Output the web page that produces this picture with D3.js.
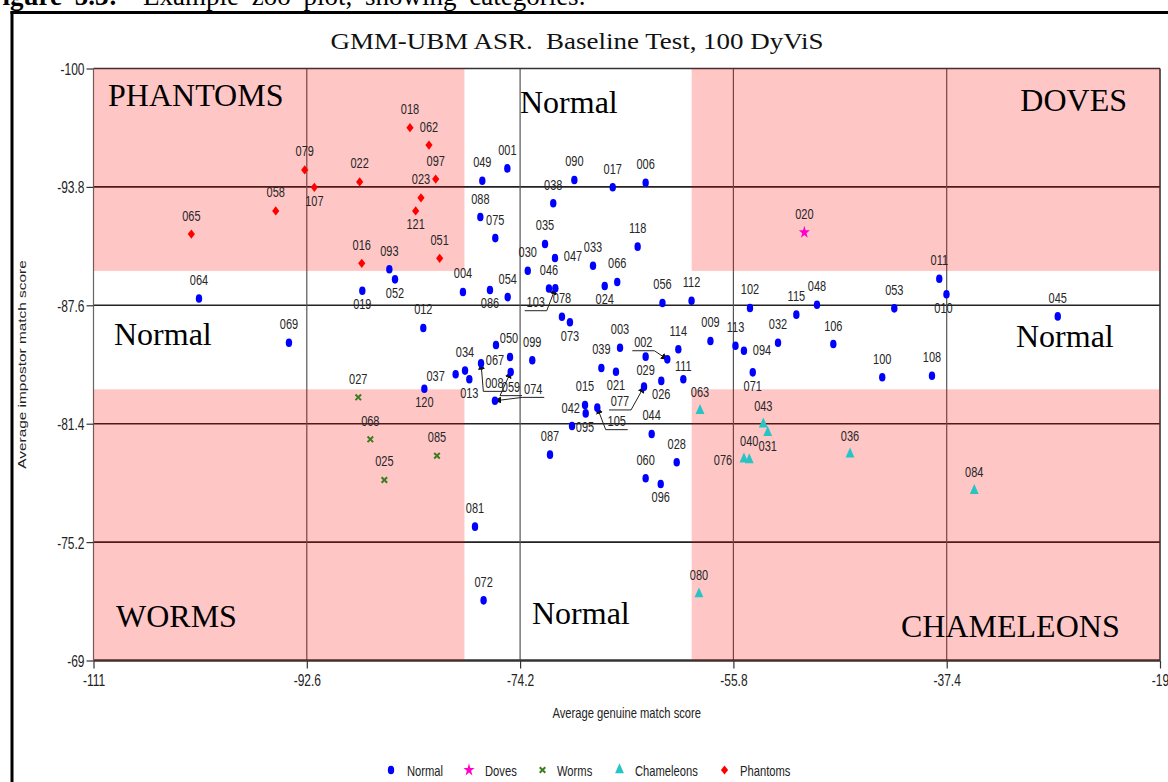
<!DOCTYPE html>
<html>
<head>
<meta charset="utf-8">
<script src="https://cdn.jsdelivr.net/npm/d3@7"></script>
<style>
  html, body { margin: 0; padding: 0; background: #fff; }
  svg { display: block; }
</style>
</head>
<body>
<svg id="chart" width="1168" height="782"></svg>
<script>
// ---- axes ----
const xTicks = [-111, -92.6, -74.2, -55.8, -37.4, -19];
const yTicks = [-100, -93.8, -87.6, -81.4, -75.2, -69];

// ---- category thresholds (genuine / impostor) ----
const genuineBounds = [-79.0, -59.4];
const impostorBounds = [-89.4, -83.2];

// ---- speakers: Normal ----
const normalIds = ["001","002","003","004","006","008","009","010","011","012","013","015","017","019","021",
  "024","026","028","029","030","032","033","034","035","037","038","039","042","044","045",
  "046","047","048","049","050","052","053","054","056","059","060","064","066","067","069",
  "071","072","073","074","075","077","078","081","086","087","088","090","093","094","095",
  "096","099","100","102","103","105","106","108","111","112","113","114","115","118","120"];
const normalGenuine = [-75.30,-61.50,-65.58,-79.13,-63.37,-77.57,-57.78,-37.42,-38.04,-82.55,-78.58,-68.60,-66.21,-87.81,-65.93,
  -66.90,-62.02,-60.69,-63.37,-73.54,-51.95,-67.91,-78.95,-72.05,-79.76,-71.34,-67.19,-68.54,-62.85,-27.82,
  -71.71,-71.19,-48.59,-77.46,-76.28,-84.99,-41.92,-75.27,-61.92,-75.01,-63.37,-101.90,-65.82,-75.07,-94.14,
  -54.13,-77.35,-69.90,-76.37,-76.34,-63.51,-70.59,-78.09,-76.80,-71.62,-77.63,-69.52,-85.48,-54.89,-69.72,
  -62.07,-73.15,-42.96,-54.37,-71.16,-67.54,-47.18,-38.67,-60.12,-59.41,-55.62,-60.55,-50.37,-64.06,-82.46];
const normalImpostor = [-94.77,-84.77,-85.38,-88.30,-94.02,-84.56,-85.73,-88.18,-88.99,-86.41,-83.73,-82.38,-93.78,-88.36,-84.12,
  -88.61,-83.64,-79.38,-84.91,-89.41,-85.64,-89.67,-84.18,-90.81,-83.99,-92.94,-84.32,-81.94,-80.86,-87.02,
  -88.48,-90.08,-87.63,-94.12,-85.52,-88.96,-87.44,-88.03,-87.72,-84.11,-78.54,-87.96,-88.82,-84.89,-85.64,
  -84.09,-72.15,-86.71,-82.60,-91.12,-83.34,-87.00,-76.01,-88.40,-79.78,-92.22,-94.16,-89.49,-85.22,-81.28,
  -78.24,-84.72,-83.83,-87.46,-88.49,-82.24,-85.57,-83.91,-83.73,-87.84,-85.48,-85.30,-87.11,-90.67,-83.23];

// ---- speakers: Doves ----
const doveIds = ["020"];
const doveGenuine = [-49.68];
const doveImpostor = [-91.42];

// ---- speakers: Worms ----
const wormIds = ["027","068","025","085"];
const wormGenuine = [-88.16,-87.12,-85.91,-81.37];
const wormImpostor = [-82.78,-80.58,-78.45,-79.72];

// ---- speakers: Chameleons ----
const chameleonIds = ["063","043","031","076","040","036","084","080"];
const chameleonGenuine = [-58.68,-53.22,-52.84,-54.89,-54.43,-45.74,-35.02,-58.77];
const chameleonImpostor = [-82.08,-81.38,-80.93,-79.54,-79.50,-79.81,-77.89,-72.48];

// ---- speakers: Phantoms ----
const phantomIds = ["065","058","079","107","022","018","062","097","023","121","016","051"];
const phantomGenuine = [-102.56,-95.28,-92.78,-91.95,-88.04,-83.70,-82.06,-81.48,-82.75,-83.21,-87.86,-81.14];
const phantomImpostor = [-91.33,-92.54,-94.69,-93.78,-94.06,-96.90,-95.99,-94.21,-93.23,-92.54,-89.80,-90.06];

// ---- label placement (text centre offset from the point, px) ----
const labelBelow = ["024","086","073","021","029","026","096","019","052","013","120","071","121","107","031"];
const labelNudge = {"047":[18,-2],"094":[18,-1],"050":[13,-7],"067":[-15,2],"037":[-20,1.5],"042":[-15,-6],
  "095":[13,1],"111":[0,-14],"076":[-21,0],"010":[-3,13]};
// labels moved off their point, joined back by an underline and an arrow
const leaderLabels = {"103":[-19.6,13.4,"right"],"002":[-24,-17.6,"right"],"077":[-24,14.3,"right"],
  "105":[19.4,13,"left"],"008":[13.3,19,"left"],"059":[0.3,14.7,"left"],"074":[38.3,-12.4,"left"]};

const svg = d3.select("#chart");
const W = 1168, H = 782;
const plot = {left: 93.5, right: 1160, top: 68.5, bottom: 660.5};
const x = d3.scaleLinear().domain([xTicks[0], xTicks[xTicks.length-1]]).range([plot.left, plot.right]);
const y = d3.scaleLinear().domain([yTicks[0], yTicks[yTicks.length-1]]).range([plot.top, plot.bottom]);

const SANS = "'Liberation Sans', Arial, sans-serif";
const SERIF = "'Liberation Serif', 'Times New Roman', serif";
const STRETCH = 1.376; // chart text is drawn tall and narrow

// squeeze each text horizontally to k of its natural width
function squeeze(sel, k) {
  sel.each(function() {
    const w = this.getComputedTextLength();
    this.setAttribute("textLength", (w * k).toFixed(2));
    this.setAttribute("lengthAdjust", "spacingAndGlyphs");
  });
}

svg.append("rect").attr("width", W).attr("height", H).attr("fill", "#fff");

// caption above the frame (cut off by the page edge)
const caption = svg.append("text").attr("x", -14).attr("y", 5)
  .attr("font-family", SERIF).attr("font-size", 27).attr("fill", "#000")
  .attr("word-spacing", 6).style("white-space", "pre");
caption.append("tspan").attr("font-weight", "bold").text("Figure 5.3:");
caption.append("tspan").text("  Example zoo plot, showing categories.");

// outer frame
svg.append("line").attr("x1", 12).attr("x2", 12).attr("y1", 11).attr("y2", H).attr("stroke", "#000").attr("stroke-width", 3);
svg.append("line").attr("x1", 10.5).attr("x2", W).attr("y1", 12.5).attr("y2", 12.5).attr("stroke", "#000").attr("stroke-width", 3);

// title
const title = svg.append("text").attr("x", 577).attr("y", 49).attr("text-anchor", "middle")
  .attr("font-family", SERIF).attr("font-size", 24).attr("fill", "#111")
  .style("white-space", "pre").text("GMM-UBM ASR.  Baseline Test, 100 DyViS");
title.attr("textLength", 493).attr("lengthAdjust", "spacingAndGlyphs");

// grid lines
const grid = svg.append("g");
grid.selectAll("line.h").data(yTicks.slice(1, -1)).join("line")
  .attr("x1", plot.left).attr("x2", plot.right).attr("y1", d => y(d)).attr("y2", d => y(d))
  .attr("stroke", "#222").attr("stroke-width", 1.6);
grid.selectAll("line.v").data(xTicks.slice(1, -1)).join("line")
  .attr("y1", plot.top).attr("y2", plot.bottom).attr("x1", d => x(d)).attr("x2", d => x(d))
  .attr("stroke", "#555").attr("stroke-width", 1.2);

// plot border
svg.append("line").attr("x1", plot.left).attr("x2", plot.right).attr("y1", plot.top).attr("y2", plot.top).attr("stroke", "#333").attr("stroke-width", 1.6);
svg.append("line").attr("x1", plot.right).attr("x2", plot.right).attr("y1", plot.top).attr("y2", plot.bottom).attr("stroke", "#333").attr("stroke-width", 1.6);
svg.append("line").attr("x1", plot.left).attr("x2", plot.right).attr("y1", plot.bottom).attr("y2", plot.bottom).attr("stroke", "#333").attr("stroke-width", 2.4);
svg.append("line").attr("x1", plot.left).attr("x2", plot.left).attr("y1", plot.top).attr("y2", plot.bottom).attr("stroke", "#666").attr("stroke-width", 1.2);

// shaded zones (outside the normal bands)
const zoneX = [[xTicks[0], genuineBounds[0]], [genuineBounds[1], xTicks[xTicks.length-1]]];
const zoneY = [[yTicks[0], impostorBounds[0]], [impostorBounds[1], yTicks[yTicks.length-1]]];
const zones = [];
zoneX.forEach(zx => zoneY.forEach(zy => zones.push({zx, zy})));
svg.append("g").selectAll("rect").data(zones).join("rect")
  .attr("x", d => x(d.zx[0])).attr("width", d => x(d.zx[1]) - x(d.zx[0]))
  .attr("y", d => y(d.zy[0])).attr("height", d => y(d.zy[1]) - y(d.zy[0]))
  .attr("fill", "rgb(255,0,0)").attr("fill-opacity", 0.225);

// axes
const yAxis = svg.append("g").attr("transform", `translate(${plot.left},0)`)
  .call(d3.axisLeft(y).tickValues(yTicks).tickSize(7).tickSizeOuter(0).tickFormat(d => String(d)));
const xAxis = svg.append("g").attr("transform", `translate(0,${plot.bottom})`)
  .call(d3.axisBottom(x).tickValues(xTicks).tickSize(8).tickSizeOuter(0).tickFormat(d => String(d)));
[yAxis, xAxis].forEach(a => {
  a.select(".domain").remove();
  a.selectAll(".tick line").attr("stroke", "#333").attr("stroke-width", 1.2);
  a.selectAll(".tick text").attr("font-family", SANS).attr("font-size", 12 * STRETCH).attr("fill", "#222");
});
yAxis.selectAll(".tick text").attr("x", -9).attr("dy", "0.36em");
xAxis.selectAll(".tick text").attr("y", 14).attr("dy", "0.71em");
squeeze(yAxis.selectAll(".tick text"), 1 / STRETCH);
squeeze(xAxis.selectAll(".tick text"), 1 / STRETCH);

// axis titles
const xTitle = svg.append("text").attr("x", (plot.left + plot.right) / 2 + 0).attr("y", 718)
  .attr("text-anchor", "middle").attr("font-family", SANS).attr("font-size", 11.2 * STRETCH).attr("fill", "#222")
  .text("Average genuine match score");
squeeze(xTitle, 1 / STRETCH);
const yTitle = svg.append("text").attr("transform", `translate(26,${(plot.top + plot.bottom) / 2}) rotate(-90)`)
  .attr("text-anchor", "middle").attr("font-family", SANS).attr("font-size", 11.2).attr("fill", "#222")
  .text("Average impostor match score");
squeeze(yTitle, STRETCH);

// zone names
const zoneNames = [
  {t: "PHANTOMS", x: 108, y: 106, a: "start"},
  {t: "Normal", x: 520, y: 113, a: "start"},
  {t: "DOVES", x: 1127, y: 111, a: "end"},
  {t: "Normal", x: 114, y: 345, a: "start"},
  {t: "Normal", x: 1016, y: 347, a: "start"},
  {t: "WORMS", x: 116, y: 627, a: "start"},
  {t: "Normal", x: 532, y: 624, a: "start"},
  {t: "CHAMELEONS", x: 901, y: 637, a: "start"}
];
svg.append("g").selectAll("text").data(zoneNames).join("text")
  .attr("x", d => d.x).attr("y", d => d.y).attr("text-anchor", d => d.a)
  .attr("font-family", SERIF).attr("font-size", 32).attr("fill", "#000").text(d => d.t);

// marker shapes
const shapes = {
  Normal: g => g.append("ellipse").attr("rx", 3.2).attr("ry", 4.3).attr("fill", "#0000ff"),
  Doves: g => g.append("path").attr("d", d3.symbol(d3.symbolStar, 38)()).attr("transform", "scale(1,1.15)").attr("fill", "#ff00cc"),
  Worms: g => g.append("path").attr("d", d3.symbol(d3.symbolX, 22)()).attr("fill", "none").attr("stroke", "#3b7d1f").attr("stroke-width", 2),
  Chameleons: g => g.append("path").attr("d", d3.symbol(d3.symbolTriangle, 34)()).attr("transform", "scale(1,1.3)").attr("fill", "#26c4c4"),
  Phantoms: g => g.append("path").attr("d", "M0,-4.6L3.6,0L0,4.6L-3.6,0Z").attr("fill", "#ff0000")
};

const groups = [
  {name: "Normal", ids: normalIds, gx: normalGenuine, gy: normalImpostor},
  {name: "Doves", ids: doveIds, gx: doveGenuine, gy: doveImpostor},
  {name: "Worms", ids: wormIds, gx: wormGenuine, gy: wormImpostor},
  {name: "Chameleons", ids: chameleonIds, gx: chameleonGenuine, gy: chameleonImpostor},
  {name: "Phantoms", ids: phantomIds, gx: phantomGenuine, gy: phantomImpostor}
];

const points = [];
groups.forEach(gr => gr.ids.forEach((id, i) => points.push({id, cat: gr.name, gx: gr.gx[i], gy: gr.gy[i]})));

// arrow head for leader lines
svg.append("defs").append("marker").attr("id", "arrow").attr("viewBox", "0 0 10 10")
  .attr("refX", 9).attr("refY", 5).attr("markerWidth", 7).attr("markerHeight", 7)
  .attr("orient", "auto-start-reverse").attr("markerUnits", "userSpaceOnUse")
  .append("path").attr("d", "M0,0L10,5L0,10Z").attr("fill", "#111");

// point labels
const labelLayer = svg.append("g");
const leaderLayer = svg.append("g");
points.forEach(p => {
  const px = x(p.gx), py = y(p.gy);
  let dx = 0, dy = -19, lead = null;
  if (leaderLabels[p.id]) { [dx, dy, lead] = leaderLabels[p.id]; }
  else if (labelNudge[p.id]) { [dx, dy] = labelNudge[p.id]; }
  else if (labelBelow.includes(p.id)) { dy = 13; }
  const t = labelLayer.append("text").attr("x", px + dx).attr("y", py + dy).attr("dy", "0.36em")
    .attr("text-anchor", "middle").attr("font-family", SANS).attr("font-size", 11 * STRETCH)
    .attr("fill", "#262626").text(p.id);
  squeeze(t, 1 / STRETCH);
  if (lead) {
    const cx = px + dx, uy = py + dy + 9;
    const x0 = cx - 11, x1 = cx + 11;
    const sx = lead === "left" ? x0 : x1;
    leaderLayer.append("path")
      .attr("d", `M${lead === "left" ? x1 : x0},${uy}L${sx},${uy}L${px},${py}`)
      .attr("fill", "none").attr("stroke", "#222").attr("stroke-width", 1)
      .attr("marker-end", "url(#arrow)");
  }
});

// points
const pointLayer = svg.append("g");
points.forEach(p => {
  const g = pointLayer.append("g").attr("transform", `translate(${x(p.gx)},${y(p.gy)})`);
  shapes[p.cat](g);
});

// legend
const legendItems = [
  {name: "Normal", mx: 391, tx: 407},
  {name: "Doves", mx: 469, tx: 485},
  {name: "Worms", mx: 542.5, tx: 557},
  {name: "Chameleons", mx: 619.5, tx: 635},
  {name: "Phantoms", mx: 724.5, tx: 740}
];
const legend = svg.append("g");
legendItems.forEach(it => {
  const g = legend.append("g").attr("transform", `translate(${it.mx},770)`);
  shapes[it.name](g);
  const t = legend.append("text").attr("x", it.tx).attr("y", 770).attr("dy", "0.36em")
    .attr("font-family", SANS).attr("font-size", 11.2 * STRETCH).attr("fill", "#222").text(it.name);
  squeeze(t, 1 / STRETCH);
});
</script>
</body>
</html>
